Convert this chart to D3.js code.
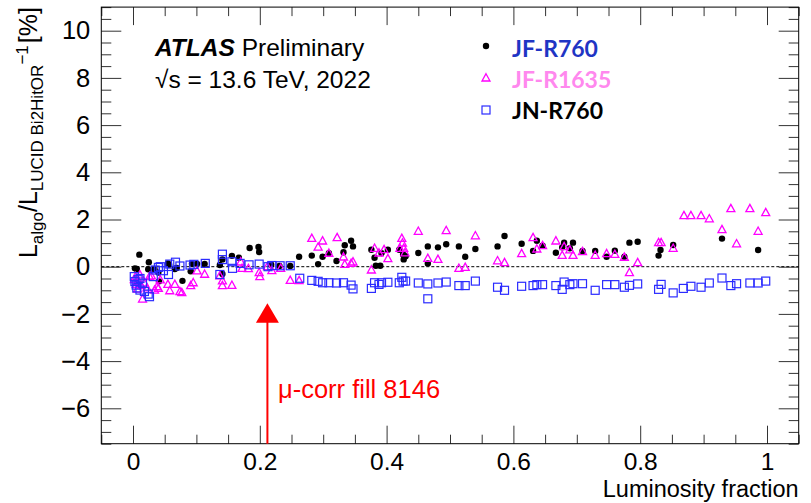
<!DOCTYPE html>
<html>
<head>
<meta charset="utf-8">
<script src="https://cdn.jsdelivr.net/npm/d3@7"></script>
<style>
  body { margin: 0; background: #fff; }
</style>
</head>
<body>
<div id="my_dataviz"></div>
<script>
// each point: [luminosity fraction, L_algo/L_LUCID - 1 in %]
const jfR760 = [
  [0.003,-0.07],[0.006,-0.10],[0.010,0.51],[0.024,-0.11],[0.025,0.19],[0.034,-0.11],[0.040,-0.25],[0.041,-0.62],
  [0.055,0.14],[0.057,0.08],[0.066,-0.10],[0.069,-0.05],[0.078,-0.60],[0.091,-0.19],[0.093,0.12],[0.101,0.12],
  [0.113,0.12],[0.137,0.07],[0.141,0.31],[0.141,-0.31],[0.156,0.46],[0.167,0.38],[0.184,0.79],[0.198,0.84],
  [0.199,0.62],[0.218,0.08],[0.231,0.03],[0.248,0.03],[0.262,0.42],[0.282,0.47],[0.292,0.11],[0.299,0.42],
  [0.309,0.57],[0.321,0.24],[0.332,0.61],[0.334,0.91],[0.344,1.10],[0.347,0.86],[0.376,0.72],[0.381,0.38],
  [0.383,0.04],[0.390,0.04],[0.392,0.57],[0.402,0.72],[0.420,0.72],[0.426,0.52],[0.427,0.31],[0.430,0.44],
  [0.450,0.58],[0.465,0.86],[0.465,0.14],[0.481,0.82],[0.494,0.95],[0.514,0.86],[0.524,0.42],[0.540,0.75],
  [0.575,0.86],[0.586,1.30],[0.613,0.97],[0.631,0.67],[0.637,1.10],[0.646,0.89],[0.667,0.59],[0.677,0.82],
  [0.680,1.02],[0.689,0.78],[0.694,1.02],[0.709,0.67],[0.729,0.67],[0.747,0.42],[0.760,0.68],[0.775,0.42],
  [0.783,1.02],[0.796,1.06],[0.829,0.47],[0.832,0.71],[0.852,0.92],[0.929,1.19],[0.986,0.71]
];
const jfR1635 = [
  [0.002,-0.55],[0.004,-0.42],[0.005,-0.75],[0.007,-0.95],[0.009,-0.62],[0.011,-0.35],[0.013,-0.80],[0.015,-1.37],
  [0.018,-0.70],[0.022,-0.90],[0.026,-0.42],[0.029,-0.39],[0.034,-0.99],[0.038,-0.85],[0.040,-0.92],[0.043,-0.56],
  [0.055,-0.75],[0.058,-1.02],[0.066,-0.75],[0.074,-1.06],[0.077,-1.10],[0.091,-0.80],[0.095,-0.68],[0.101,-0.18],
  [0.113,-0.32],[0.137,-0.39],[0.141,-0.60],[0.141,-0.80],[0.156,-0.79],[0.170,0.20],[0.172,-0.07],[0.182,-0.08],
  [0.199,-0.25],[0.200,-0.42],[0.212,0.00],[0.219,-0.17],[0.233,-0.07],[0.248,-0.58],[0.262,-0.59],[0.282,1.20],
  [0.292,0.83],[0.299,1.09],[0.309,0.57],[0.322,1.23],[0.332,0.41],[0.334,0.10],[0.344,0.14],[0.347,0.20],
  [0.376,-0.14],[0.381,0.78],[0.388,0.58],[0.396,0.72],[0.402,0.34],[0.421,0.78],[0.424,1.20],[0.425,1.00],
  [0.427,0.78],[0.429,0.59],[0.450,1.50],[0.465,0.35],[0.481,0.31],[0.494,1.53],[0.514,-0.07],[0.524,-0.03],
  [0.540,1.31],[0.575,0.25],[0.586,0.17],[0.613,0.55],[0.631,1.23],[0.637,0.75],[0.646,0.89],[0.667,1.09],
  [0.677,0.48],[0.680,0.85],[0.689,0.71],[0.694,0.48],[0.709,0.64],[0.729,0.48],[0.747,0.55],[0.760,0.52],
  [0.775,0.40],[0.783,-0.25],[0.796,0.17],[0.829,1.02],[0.833,1.02],[0.852,0.78],[0.869,2.16],[0.880,2.16],
  [0.896,2.16],[0.909,2.03],[0.929,1.57],[0.943,2.46],[0.952,0.97],[0.973,2.46],[0.986,1.50],[0.998,2.29]
];
const jnR760 = [
  [0.002,-0.42],[0.003,-0.63],[0.005,-0.78],[0.006,-0.90],[0.008,-0.55],[0.011,-0.50],[0.011,-0.99],[0.015,-0.70],
  [0.018,-1.05],[0.024,-1.16],[0.026,-1.27],[0.032,-0.42],[0.035,-0.14],[0.040,-0.03],[0.043,0.00],[0.048,-0.17],
  [0.056,-0.33],[0.058,0.11],[0.067,0.19],[0.074,0.03],[0.090,0.07],[0.096,0.10],[0.114,0.14],[0.137,-0.33],
  [0.141,0.53],[0.141,0.30],[0.156,0.21],[0.157,-0.07],[0.169,0.14],[0.183,0.08],[0.199,0.11],[0.213,0.00],
  [0.219,0.05],[0.232,0.04],[0.248,0.04],[0.263,-0.49],[0.282,-0.58],[0.292,-0.62],[0.299,-0.68],[0.309,-0.68],
  [0.321,-0.69],[0.332,-0.68],[0.344,-0.78],[0.347,-0.94],[0.376,-0.92],[0.381,-0.68],[0.388,-0.75],[0.392,-0.68],
  [0.402,-0.66],[0.420,-0.68],[0.424,-0.45],[0.426,-0.61],[0.430,-0.61],[0.450,-0.69],[0.465,-0.73],[0.465,-1.36],
  [0.481,-0.69],[0.494,-0.65],[0.514,-0.80],[0.524,-0.80],[0.540,-0.61],[0.575,-0.87],[0.586,-1.00],[0.613,-0.83],
  [0.631,-0.80],[0.637,-0.76],[0.646,-0.76],[0.667,-0.80],[0.677,-0.96],[0.680,-0.65],[0.689,-0.76],[0.694,-0.72],
  [0.709,-0.72],[0.729,-1.00],[0.747,-0.76],[0.760,-0.76],[0.775,-0.87],[0.783,-0.79],[0.796,-0.73],[0.829,-0.96],
  [0.833,-0.75],[0.852,-1.11],[0.868,-0.92],[0.880,-0.83],[0.896,-0.87],[0.909,-0.69],[0.929,-0.48],[0.943,-0.80],
  [0.952,-0.72],[0.973,-0.69],[0.986,-0.69],[0.998,-0.61]
];
const legendNames = ["JF-R760", "JF-R1635", "JN-R760"];
const xTicks = [0, 0.2, 0.4, 0.6, 0.8, 1];
const yTicks = [-6, -4, -2, 0, 2, 4, 6, 8, 10];
const muCorrFill = 0.212;   // luminosity fraction of fill 8146

const font = "'Liberation Sans', Arial, Helvetica, sans-serif";

const svg = d3.select("#my_dataviz")
  .append("svg")
    .attr("width", 811)
    .attr("height", 503);

const x = d3.scaleLinear().domain([-0.05, 1.05]).range([101.3, 798.7]);
const y = d3.scaleLinear().domain([-7.5, 11]).range([443.7, 7.1]);
const [x0, x1] = x.range(), [y0, y1] = y.range();

// minor ticks
const xMinor = d3.range(-0.05, 1.0501, 0.05).filter(v => Math.abs(v * 5 - Math.round(v * 5)) > 1e-6);
const yMinor = d3.range(-7.5, 11.01, 0.5).filter(v => Math.abs(v / 2 - Math.round(v / 2)) > 1e-6);

function tickAxis(axis, vals, size, tr) {
  const g = svg.append("g")
    .attr("transform", tr)
    .call(axis.tickValues(vals).tickSize(-size).tickSizeOuter(0).tickFormat(""));
  g.select(".domain").remove();
  g.selectAll("line").attr("stroke", "#333");
  return g;
}
tickAxis(d3.axisBottom(x), xMinor, 9, `translate(0,${y0})`);
tickAxis(d3.axisTop(x), xMinor, 9, `translate(0,${y1})`);
tickAxis(d3.axisTop(x), xTicks, 18, `translate(0,${y1})`);
tickAxis(d3.axisLeft(y), yMinor, 10, `translate(${x0},0)`);
tickAxis(d3.axisRight(y), yMinor, 10, `translate(${x1},0)`);
tickAxis(d3.axisRight(y), yTicks, 20, `translate(${x1},0)`);

// labelled axes
const xAxis = svg.append("g")
  .attr("transform", `translate(0,${y0})`)
  .call(d3.axisBottom(x).tickValues(xTicks).tickSize(-18).tickSizeOuter(0)
    .tickFormat(d3.format("~g")));
const yAxis = svg.append("g")
  .attr("transform", `translate(${x0},0)`)
  .call(d3.axisLeft(y).tickValues(yTicks).tickSize(-20).tickSizeOuter(0)
    .tickPadding(11).tickFormat(d3.format("~g")));
[xAxis, yAxis].forEach(g => {
  g.select(".domain").remove();
  g.selectAll("line").attr("stroke", "#333");
  g.selectAll("text").attr("font-family", font).attr("font-size", 25.5).attr("fill", "#000");
});
xAxis.selectAll("text").attr("font-size", 24.5).attr("dy", null).attr("y", 26);

// frame
svg.append("rect")
  .attr("x", x0).attr("y", y1)
  .attr("width", x1 - x0).attr("height", y0 - y1)
  .attr("fill", "none").attr("stroke", "#000").attr("stroke-width", 1);

// zero line
svg.append("line")
  .attr("x1", x0).attr("x2", x1)
  .attr("y1", y(0)).attr("y2", y(0))
  .attr("stroke", "#000").attr("stroke-width", 1)
  .attr("stroke-dasharray", "3,2");

// points
const tri = "M0,-4.3L4,3L-4,3Z";
svg.append("g").selectAll("circle")
  .data(jfR760).join("circle")
    .attr("cx", d => x(d[0])).attr("cy", d => y(d[1]))
    .attr("r", 3.2).attr("fill", "#000");
svg.append("g").selectAll("path")
  .data(jfR1635).join("path")
    .attr("d", tri)
    .attr("transform", d => `translate(${x(d[0])},${y(d[1])})`)
    .attr("fill", "none").attr("stroke", "#ff00ff").attr("stroke-width", 1.3);
svg.append("g").selectAll("rect")
  .data(jnR760).join("rect")
    .attr("x", d => x(d[0]) - 4).attr("y", d => y(d[1]) - 4)
    .attr("width", 8).attr("height", 8)
    .attr("fill", "none").attr("stroke", "#2b2bff").attr("stroke-width", 1.2);

// axis titles
svg.append("text")
  .attr("x", x1).attr("y", 496.5)
  .attr("text-anchor", "end")
  .attr("font-family", font).attr("font-size", 23.5)
  .text("Luminosity fraction");

const yTitle = svg.append("text")
  .attr("transform", `translate(37,${y1}) rotate(-90)`)
  .attr("text-anchor", "end")
  .attr("font-family", font).attr("font-size", 25);
yTitle.append("tspan").text("L");
yTitle.append("tspan").attr("font-size", 17).attr("dy", 6).text("algo");
yTitle.append("tspan").attr("dy", -6).text("/L");
yTitle.append("tspan").attr("font-size", 17).attr("dy", 6).text("LUCID Bi2HitOR");
yTitle.append("tspan").attr("font-size", 17).attr("dy", -15).text("\u22121");
yTitle.append("tspan").attr("dy", 9).attr("dx", 2).text("[%]");

// ATLAS label
const atlas = svg.append("text")
  .attr("x", 155).attr("y", 56)
  .attr("font-family", font).attr("font-size", 24.5);
atlas.append("tspan").attr("font-weight", "bold").attr("font-style", "italic").text("ATLAS");
atlas.append("tspan").text(" Preliminary");
svg.append("text")
  .attr("x", 155).attr("y", 88)
  .attr("font-family", font).attr("font-size", 24.5)
  .text("\u221As = 13.6 TeV, 2022");

// mu-corr arrow
svg.append("line")
  .attr("x1", x(muCorrFill)).attr("x2", x(muCorrFill))
  .attr("y1", y0).attr("y2", y(-2.3))
  .attr("stroke", "#ff0000").attr("stroke-width", 2);
svg.append("path")
  .attr("d", `M${x(muCorrFill)},${y(-1.55)}L${x(muCorrFill) + 11.5},${y(-2.37)}L${x(muCorrFill) - 11.5},${y(-2.37)}Z`)
  .attr("fill", "#ff0000");
svg.append("text")
  .attr("x", 278).attr("y", 398)
  .attr("font-family", font).attr("font-size", 25.5)
  .attr("fill", "#ff0000")
  .text("\u03BC-corr fill 8146");

// legend
svg.append("circle").attr("cx", 486).attr("cy", 46).attr("r", 3.2).attr("fill", "#000");
svg.append("path").attr("d", tri).attr("transform", "translate(486,78)")
  .attr("fill", "none").attr("stroke", "#ff00ff").attr("stroke-width", 1.3);
svg.append("rect").attr("x", 482).attr("y", 106).attr("width", 8).attr("height", 8)
  .attr("fill", "none").attr("stroke", "#2b2bff").attr("stroke-width", 1.2);

const legendColor = d3.scaleOrdinal().domain(legendNames).range(["#1f35c4", "#ff88ee", "#000000"]);
svg.selectAll("text.legend")
  .data(legendNames)
  .join("text")
    .attr("class", "legend")
    .attr("x", 512)
    .attr("y", (d, i) => 57 + i * 31)
    .attr("font-family", "Lato, 'Open Sans', sans-serif")
    .attr("font-weight", "bold")
    .attr("font-size", 23)
    .attr("fill", d => legendColor(d))
    .text(d => d);
</script>
</body>
</html>
